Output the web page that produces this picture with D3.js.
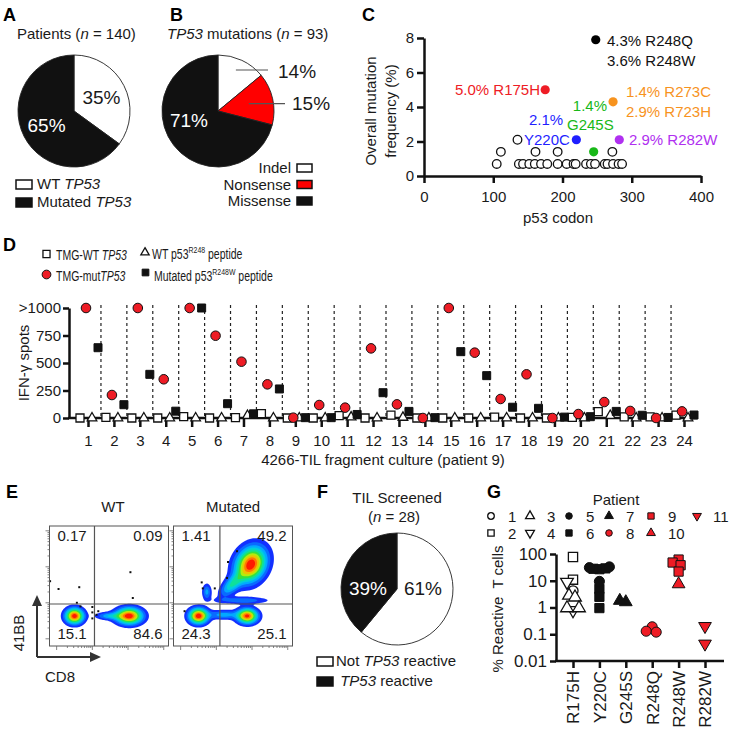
<!DOCTYPE html>
<html>
<head>
<meta charset="utf-8">
<script src="https://cdn.jsdelivr.net/npm/d3@7"></script>
<style>
html,body{margin:0;padding:0;background:#fff;}
svg{display:block;}
text{font-family:"Liberation Sans",Arial,Helvetica,sans-serif;}
</style>
</head>
<body>
<svg id="fig" width="755" height="742" xmlns="http://www.w3.org/2000/svg"></svg>
<script>
// ================= DATA =================
// Panel A
const aCategories = ["WT <i>TP53</i>", "Mutated <i>TP53</i>"];
const aValues = [35, 65];
// Panel B
const bCategories = ["Indel", "Nonsense", "Missense"];
const bValues = [14, 15, 71];
// Panel C
const cOpenCodon = [105,137,143,152,160,169,178,193,206,216,219,234,241,247,261,265,273,281,286,111,161,193,272,135];
const cOpenFreq  = [0.7,0.7,0.7,0.7,0.7,0.7,0.7,0.7,0.7,0.7,0.7,0.7,0.7,0.7,0.7,0.7,0.7,0.7,0.7,1.4,1.4,1.4,1.4,2.1];
const cHotCodon = [175, 220, 245, 248, 273, 282];
const cHotFreq  = [5.0, 2.1, 1.4, 7.9, 4.3, 2.1];
const cXTicks = [0, 100, 200, 300, 400];
const cYTicks = [0, 2, 4, 6, 8];
// Panel D
const dFragments = ["1","2","3","4","5","6","7","8","9","10","11","12","13","14","15","16","17","18","19","20","21","22","23","24"];
const dWtTmg  = [0,5,0,0,12,0,3,40,0,0,22,0,27,0,0,0,8,0,0,5,58,10,10,27];
const dMutTmg = [1000,209,1000,352,1000,748,512,306,3,118,94,633,124,0,1000,594,173,397,0,36,145,64,0,60];
const dWtPep  = [0,0,0,0,0,0,22,0,0,0,8,0,5,0,0,0,0,0,0,0,22,0,0,0];
const dMutPep = [639,121,397,62,1000,130,38,264,3,3,32,230,60,3,603,385,98,88,8,12,60,25,5,27];
const dYTicks = [0, 250, 500, 750, 1000];
const dYLabels = ["0", "250", "500", "750", ">1000"];
// Panel E (quadrant percentages; populations: [CD8, 41BB, sdMajor, sdMinor, angle, weight])
const eQuadWT  = ["0.17", "0.09", "15.1", "84.6"];
const eQuadMut = ["1.41", "49.2", "24.3", "25.1"];
const ePopsWT = [[21,25,5.0,4.2,0,1],[67,25,7.2,4.4,0,1],[50,25,7,2.0,0,0.3]];
const ePopsMut = [[21,25,5.2,4.2,0,1],[62,25,5.6,4.0,0,0.95],[42,26,8,2.4,0,0.3],[65,68,10,7.8,60,1],[49,51,8,3.8,45,0.4],[28,45,2.4,4.2,0,0.28],[58,38,14,1.9,0,0.22]];
const eEventsWT = [[0.5,54],[7.6,47.5],[25,49],[23,36],[26,33],[36,32.5],[36,28],[36,23],[39.5,26],[41,29],[68,61.5],[70,40]];
const eEventsMut = [[9.3,29],[23.7,53],[24.6,48],[45.8,70],[53.4,79],[45,56.7],[34.7,48]];
// Panel F
const fCategories = ["Not <i>TP53</i> reactive", " <i>TP53</i> reactive"];
const fValues = [61, 39];
// Panel G
const gCategories = ["R175H","Y220C","G245S","R248Q","R248W","R282W"];
const gCat     = [0,0,0,0,0,0,0,0,0, 1,1,1,1,1,1,1,1,1, 2,2, 3,3,3, 4,4,4,4,4, 5,5];
const gPatient = [2,2,4,4,1,3,3,3,3, 6,6,6,6,6,6,5,5,5, 7,7, 8,8,8, 9,9,9,9,10, 11,11];
const gValue   = [77,11,9,0.78,4.2,2.8,2.4,0.95,0.95, 27,28,29,5,2.5,0.95,31,33,9.5, 1.6,1.8, 0.19,0.13,0.12, 62,48,38,22,7.5, 0.2,0.044];
const gYTicks = [0.01, 0.1, 1, 10, 100];
const gYLabels = ["0.01", "0.1", "1", "10", "100"];
const gLegendPatients = [1,3,5,7,9,11,2,4,6,8,10];

// ================= HELPERS =================
const svg = d3.select("#fig");
const FONT = '"Liberation Sans",Arial,Helvetica,sans-serif';
const INK = "#1a1a1a";
const RED = "#ee1c25";

function rich(t, str) {
  const re = /<(i|sup)>(.*?)<\/(?:i|sup)>/g;
  let last = 0, m, pending = 0;
  const add = (s, kind) => {
    if (!s) return;
    const sp = t.append("tspan").text(s);
    let dy = pending; pending = 0;
    if (kind === "i") sp.attr("font-style", "italic");
    if (kind === "sup") { sp.attr("font-size", "0.66em"); dy -= 6; pending = 6; }
    if (dy) sp.attr("dy", dy);
  };
  while ((m = re.exec(str))) {
    add(str.slice(last, m.index), null);
    add(m[2], m[1]);
    last = re.lastIndex;
  }
  add(str.slice(last), null);
}
function T(parent, x, y, str, o = {}) {
  const t = parent.append("text").attr("x", x).attr("y", y)
    .attr("font-size", o.size || 15).attr("text-anchor", o.anchor || "start")
    .attr("fill", o.fill || INK).attr("font-weight", o.weight || "normal")
    .style("white-space", "pre");
  if (o.rotate) t.attr("transform", `rotate(${o.rotate},${x},${y})`);
  rich(t, str);
  return t;
}
function panelLabel(x, y, s) { T(svg, x, y, s, {size: 18, weight: "bold", fill: "#000"}); }
function styleAxis(g, size) {
  g.attr("font-family", FONT).attr("font-size", size);
  g.select(".domain").attr("stroke", "#111").attr("stroke-width", 2.5);
  g.selectAll(".tick line").attr("stroke", "#111").attr("stroke-width", 2.5);
  g.selectAll(".tick text").attr("fill", INK);
}
function symbolPath(type, size) {
  const t = type === "circle" ? d3.symbolCircle : type === "square" ? d3.symbolSquare : d3.symbolTriangle;
  return d3.symbol().type(t).size(size)();
}
function drawSym(parent, type, fill, x, y, size) {
  const p = parent.append("path").attr("d", symbolPath(type, size))
    .attr("transform", `translate(${x},${y})` + (type === "tridown" ? " rotate(180)" : ""));
  if (fill === "open") p.attr("fill", "#fff").attr("stroke", "#111").attr("stroke-width", 1.3);
  else if (fill === "black") p.attr("fill", "#111").attr("stroke", "#111").attr("stroke-width", 1);
  else p.attr("fill", RED).attr("stroke", "#111").attr("stroke-width", 1);
  return p;
}
function pie(cx, cy, r, values, colors) {
  const arcs = d3.pie().sort(null).value(d => d)(values);
  const arc = d3.arc().innerRadius(0).outerRadius(r);
  svg.append("g").attr("transform", `translate(${cx},${cy})`)
    .selectAll("path").data(arcs).join("path")
    .attr("d", arc).attr("fill", (d, i) => colors[i])
    .attr("stroke", "#222").attr("stroke-width", 0.9);
  return arcs;
}
function legendBox(x, y, fill) {
  svg.append("rect").attr("x", x).attr("y", y).attr("width", 16).attr("height", 9)
    .attr("fill", fill).attr("stroke", "#111").attr("stroke-width", 1.5);
}

// ================= PANEL A =================
panelLabel(3, 21, "A");
T(svg, 17, 39, "Patients (<i>n</i> = 140)", {size: 15});
{
  const cx = 74, cy = 111, r = 56;
  const arcs = pie(cx, cy, r, aValues, ["#fff", "#111"]);
  const lab = d3.arc().innerRadius(r * 0.55).outerRadius(r * 0.55);
  arcs.forEach((a, i) => {
    const [lx, ly] = lab.centroid(a);
    T(svg, cx + lx, cy + ly + 7, a.data + "%", {size: 19, anchor: "middle", fill: i === 0 ? INK : "#fff"});
  });
  const fills = ["#fff", "#111"];
  aCategories.forEach((c, i) => {
    legendBox(16, 180 + i * 18, fills[i]);
    T(svg, 37, 189 + i * 18, c, {size: 15});
  });
}

// ================= PANEL B =================
panelLabel(170, 21, "B");
T(svg, 167, 39, "<i>TP53</i> mutations (<i>n</i> = 93)", {size: 15});
{
  const cx = 218, cy = 111, r = 56;
  const cols = ["#fff", "#ff0000", "#111"];
  const arcs = pie(cx, cy, r, bValues, cols);
  const l1 = d3.arc().innerRadius(r * 0.75).outerRadius(r * 0.75).centroid(arcs[0]);
  const l2 = d3.arc().innerRadius(r * 0.6).outerRadius(r * 0.6).centroid(arcs[1]);
  svg.append("line").attr("x1", cx + l1[0]).attr("y1", cy + l1[1] - 3).attr("x2", 268).attr("y2", cy + l1[1] - 3).attr("stroke", "#555").attr("stroke-width", 1.2);
  svg.append("line").attr("x1", cx + l2[0] - 2).attr("y1", cy + l2[1]).attr("x2", 285).attr("y2", cy + l2[1]).attr("stroke", "#555").attr("stroke-width", 1.2);
  T(svg, 278, cy + l1[1] + 5, bValues[0] + "%", {size: 19});
  T(svg, 292, cy + l2[1] + 6, bValues[1] + "%", {size: 19});
  T(svg, cx - 29, cy + 16, bValues[2] + "%", {size: 19, anchor: "middle", fill: "#fff"});
  bCategories.forEach((c, i) => {
    svg.append("rect").attr("x", 297).attr("y", 164 + i * 16.5).attr("width", 15).attr("height", 8)
      .attr("fill", cols[i]).attr("stroke", "#111").attr("stroke-width", 1.5);
    T(svg, 291, 173 + i * 16.5, c, {size: 15, anchor: "end"});
  });
}

// ================= PANEL C =================
panelLabel(362, 21, "C");
{
  const x = d3.scaleLinear().domain([0, 400]).range([424, 701]);
  const y = d3.scaleLinear().domain([0, 8]).range([176, 38]);
  const gx = svg.append("g").attr("transform", "translate(0,176)")
    .call(d3.axisBottom(x).tickValues(cXTicks).tickSize(7).tickSizeOuter(0).tickPadding(8));
  styleAxis(gx, 15);
  const gy = svg.append("g").attr("transform", "translate(424,0)")
    .call(d3.axisLeft(y).tickValues(cYTicks).tickSize(7).tickSizeOuter(0).tickPadding(3));
  styleAxis(gy, 15);
  T(svg, 558, 223, "p53 codon", {size: 15, anchor: "middle"});
  T(svg, 376, 111, "Overall mutation", {size: 15, anchor: "middle", rotate: -90});
  T(svg, 396, 111, "frequency (%)", {size: 15, anchor: "middle", rotate: -90});
  svg.append("g").selectAll("circle").data(cOpenCodon).join("circle")
    .attr("cx", (d) => x(d)).attr("cy", (d, i) => y(cOpenFreq[i])).attr("r", 4.3)
    .attr("fill", "#fff").attr("stroke", "#111").attr("stroke-width", 1.3);
  const hotColors = [RED, "#1f1fff", "#18b818", "#000", "#f7931e", "#b030f0"];
  svg.append("g").selectAll("circle").data(cHotCodon).join("circle")
    .attr("cx", d => x(d)).attr("cy", (d, i) => y(cHotFreq[i])).attr("r", 4.6)
    .attr("fill", (d, i) => hotColors[i]);
  T(svg, 607, 46, "4.3% R248Q", {size: 15, fill: "#111"});
  T(svg, 607, 66, "3.6% R248W", {size: 15, fill: "#111"});
  T(svg, 540, 95, "5.0% R175H", {size: 15, fill: hotColors[0], anchor: "end"});
  T(svg, 626, 97, "1.4% R273C", {size: 15, fill: hotColors[4]});
  T(svg, 626, 117, "2.9% R723H", {size: 15, fill: hotColors[4]});
  T(svg, 607, 111, "1.4%", {size: 15, fill: hotColors[2], anchor: "end"});
  T(svg, 567, 130, "G245S", {size: 15, fill: hotColors[2]});
  T(svg, 529, 125, "2.1%", {size: 15, fill: hotColors[1]});
  T(svg, 524, 145, "Y220C", {size: 15, fill: hotColors[1]});
  T(svg, 629, 145, "2.9% R282W", {size: 15, fill: hotColors[5]});
}

// ================= PANEL D =================
panelLabel(3, 251, "D");
{
  const leg = (x, y, s) => {
    const g = svg.append("g").attr("transform", `translate(${x},${y}) scale(0.7,1)`);
    T(g, 0, 0, s, {size: 15});
  };
  drawSym(svg, "square", "open", 46.5, 254, 50);
  leg(56, 260, "TMG-WT <i>TP53</i>");
  drawSym(svg, "triangle", "open", 145, 252.5, 30);
  leg(152, 259, "WT p53<sup>R248</sup> peptide");
  drawSym(svg, "circle", "red", 46.5, 274.5, 60);
  leg(56, 281, "TMG-mut<i>TP53</i>");
  drawSym(svg, "square", "black", 145.5, 272.5, 45);
  leg(154, 281, "Mutated p53<sup>R248W</sup> peptide");

  const x = d3.scalePoint().domain(dFragments).range([88, 684]);
  const step = x.step();
  const y = d3.scaleLinear().domain([0, 1000]).range([418, 308]);
  svg.append("g").selectAll("line").data(dFragments.slice(1)).join("line")
    .attr("x1", d => x(d) - step / 2).attr("x2", d => x(d) - step / 2)
    .attr("y1", 305).attr("y2", 418)
    .attr("stroke", "#222").attr("stroke-width", 1.2).attr("stroke-dasharray", "3,3");
  const gx = svg.append("g").attr("transform", "translate(0,418)")
    .call(d3.axisBottom(x).tickSize(9).tickPadding(8));
  styleAxis(gx, 15);
  gx.select(".domain").remove();
  svg.append("line").attr("x1", 68).attr("x2", 697).attr("y1", 418).attr("y2", 418).attr("stroke", "#111").attr("stroke-width", 2.5);
  const gy = svg.append("g").attr("transform", "translate(69,0)")
    .call(d3.axisLeft(y).tickValues(dYTicks).tickFormat((d, i) => dYLabels[i]).tickSize(6).tickPadding(2).tickSizeOuter(0));
  styleAxis(gy, 15);
  T(svg, 383, 465, "4266-TIL fragment culture (patient 9)", {size: 15, anchor: "middle"});
  T(svg, 29, 363, "IFN-γ spots", {size: 15, anchor: "middle", rotate: -90});
  const series = [
    {vals: dWtTmg, type: "square", fill: "open", off: -8, size: 64},
    {vals: dWtPep, type: "triangle", fill: "open", off: 4, size: 40},
    {vals: dMutTmg, type: "circle", fill: "red", off: -2, size: 72},
    {vals: dMutPep, type: "square", fill: "black", off: 10, size: 64},
  ];
  const pg = svg.append("g");
  series.forEach(s => {
    s.vals.forEach((v, i) => drawSym(pg, s.type, s.fill, x(dFragments[i]) + s.off, y(Math.min(v, 1000)), s.size));
  });
}

// ================= PANEL E =================
panelLabel(6, 498, "E");
function flow(x0, y0, w, h, pops, gate, events, quads, id) {
  const g = svg.append("g").attr("transform", `translate(${x0},${y0})`);
  const sx = d3.scaleLinear([0, 100], [0, w]), sy = d3.scaleLinear([0, 100], [h, 0]);
  const nx = Math.round(w), ny = Math.round(h);
  const vals = new Float64Array(nx * ny);
  let mx = 0;
  for (let j = 0; j < ny; j++) for (let i = 0; i < nx; i++) {
    const u = sx.invert(i + 0.5), v = sy.invert(j + 0.5);
    let s = 0;
    for (const p of pops) {
      const [mu, mv, su, sv, ang, wt] = p;
      const a = ang * Math.PI / 180, dx = u - mu, dy = v - mv;
      const uu = dx * Math.cos(a) + dy * Math.sin(a), vv = -dx * Math.sin(a) + dy * Math.cos(a);
      s += wt * Math.exp(-0.5 * (uu * uu / (su * su) + vv * vv / (sv * sv)));
    }
    vals[j * nx + i] = s; if (s > mx) mx = s;
  }
  for (let k = 0; k < vals.length; k++) vals[k] /= mx;
  const levels = [0.07, 0.15, 0.24, 0.33, 0.42, 0.52, 0.62, 0.72, 0.82, 0.91];
  const jet = d3.scaleLinear().domain([0, 0.12, 0.25, 0.4, 0.55, 0.7, 0.85, 1])
    .range(["#1230ff", "#0870ff", "#00b8ff", "#00e0c0", "#30e040", "#d8f000", "#ff9a00", "#ff1a00"]);
  svg.append("clipPath").attr("id", id).append("rect").attr("width", w).attr("height", h);
  const cg = g.append("g").attr("clip-path", `url(#${id})`);
  cg.selectAll("path").data(d3.contours().size([nx, ny]).thresholds(levels)(vals)).join("path")
    .attr("d", d3.geoPath()).attr("fill", (d, i) => jet(i / (levels.length - 1)));
  cg.selectAll("rect.ev").data(events).join("rect").attr("class", "ev")
    .attr("x", d => sx(d[0]) - 1).attr("y", d => sy(d[1]) - 1).attr("width", 2).attr("height", 2).attr("fill", "#111");
  g.append("rect").attr("width", w).attr("height", h).attr("fill", "none").attr("stroke", "#555").attr("stroke-width", 1);
  g.append("line").attr("x1", sx(gate[0])).attr("x2", sx(gate[0])).attr("y1", 0).attr("y2", h).attr("stroke", "#555").attr("stroke-width", 1.2);
  g.append("line").attr("x1", 0).attr("x2", w).attr("y1", sy(gate[1])).attr("y2", sy(gate[1])).attr("stroke", "#555").attr("stroke-width", 1.2);
  const decades = [6, 36, 66, 96];
  const tk = [];
  decades.forEach(d => { tk.push([d, 4]); [2,3,4,5,6,7,8,9].forEach(k => { const p = d + 30 * Math.log10(k); if (p < 100) tk.push([p, 2]); }); });
  g.selectAll("line.tb").data(tk).join("line").attr("class", "tb")
    .attr("x1", d => sx(d[0])).attr("x2", d => sx(d[0])).attr("y1", h).attr("y2", d => h + d[1]).attr("stroke", "#666").attr("stroke-width", 0.8);
  g.selectAll("line.tl").data(tk).join("line").attr("class", "tl")
    .attr("y1", d => sy(d[0])).attr("y2", d => sy(d[0])).attr("x1", 0).attr("x2", d => -d[1]).attr("stroke", "#666").attr("stroke-width", 0.8);
  T(g, 8, 15, quads[0], {size: 15});
  T(g, w - 6, 15, quads[1], {size: 15, anchor: "end"});
  T(g, 8, h - 7, quads[2], {size: 15});
  T(g, w - 6, h - 7, quads[3], {size: 15, anchor: "end"});
}
flow(49.5, 526, 119, 120, ePopsWT, [37.8, 35], eEventsWT, eQuadWT, "clipwt");
flow(173.5, 526, 119, 120, ePopsMut, [39, 35], eEventsMut, eQuadMut, "clipmut");
T(svg, 113, 512, "WT", {size: 15, anchor: "middle"});
T(svg, 233, 512, "Mutated", {size: 15, anchor: "middle"});
{
  const ag = svg.append("g").attr("stroke", "#333").attr("fill", "#333");
  ag.append("path").attr("d", "M37,657 L37,604 M37,657 L93,657").attr("fill", "none").attr("stroke-width", 2);
  ag.append("path").attr("d", "M37,595 L32,606 L42,606 Z").attr("stroke", "none");
  ag.append("path").attr("d", "M101,657 L90,652 L90,662 Z").attr("stroke", "none");
  T(svg, 24, 633, "41BB", {size: 15, anchor: "middle", rotate: -90});
  T(svg, 45, 682, "CD8", {size: 15});
}

// ================= PANEL F =================
panelLabel(317, 498, "F");
T(svg, 397, 503, "TIL Screened", {size: 15, anchor: "middle"});
T(svg, 394, 522, "(<i>n</i> = 28)", {size: 15, anchor: "middle"});
{
  const cx = 397, cy = 589, r = 56;
  pie(cx, cy, r, fValues, ["#fff", "#111"]);
  T(svg, cx + 26, cy + 6, fValues[0] + "%", {size: 19, anchor: "middle"});
  T(svg, cx - 29, cy + 6, fValues[1] + "%", {size: 19, anchor: "middle", fill: "#fff"});
  const fills = ["#fff", "#111"];
  fCategories.forEach((c, i) => {
    legendBox(317, 657 + i * 20, fills[i]);
    T(svg, 336, 666 + i * 20, c, {size: 15});
  });
}

// ================= PANEL G =================
panelLabel(487, 498, "G");
{
  const style = {1:["circle","open"],2:["square","open"],3:["triangle","open"],4:["tridown","open"],
    5:["circle","black"],6:["square","black"],7:["triangle","black"],8:["circle","red"],
    9:["square","red"],10:["triangle","red"],11:["tridown","red"]};
  T(svg, 616, 505, "Patient", {size: 15, anchor: "middle"});
  const colX = [491, 530, 569, 609, 651, 697];
  gLegendPatients.forEach((p, k) => {
    const row = k < 6 ? 0 : 1, col = k < 6 ? k : k - 6;
    const sy = 516 + row * 17;
    const [tp, fl] = style[p];
    drawSym(svg, tp, fl, colX[col], sy, tp === "square" ? 40 : 34);
    T(svg, colX[col] + (p === 11 ? 16 : 17), sy + 5.5, String(p), {size: 15});
  });
  const x = d3.scalePoint().domain(gCategories).range([573, 705]);
  const y = d3.scaleLog().domain([0.01, 100]).range([661, 554]);
  const gy = svg.append("g").attr("transform", "translate(556,0)")
    .call(d3.axisLeft(y).tickValues(gYTicks).tickFormat((d, i) => gYLabels[i]).tickSize(6).tickPadding(3).tickSizeOuter(0));
  styleAxis(gy, 17);
  const gx = svg.append("g").attr("transform", "translate(0,661)")
    .call(d3.axisBottom(x).tickSize(7).tickSizeOuter(0));
  styleAxis(gx, 17);
  gx.select(".domain").remove();
  svg.append("line").attr("x1", 555).attr("x2", 724).attr("y1", 661).attr("y2", 661).attr("stroke", "#111").attr("stroke-width", 2.5);
  gx.selectAll(".tick text").attr("transform", "rotate(-90)").attr("text-anchor", "end")
    .attr("x", -10).attr("y", 0).attr("dy", "0.35em");
  T(svg, 503, 609, "% Reactive  T cells", {size: 15, anchor: "middle", rotate: -90});
  const placed = [];
  const offs = [0, -2, 2, -4, 4, -6, 6, -8, 8, -10, 10];
  const MIN = 6;
  const pg = svg.append("g");
  gValue.forEach((v, i) => {
    const cxp = x(gCategories[gCat[i]]), cyp = y(v);
    let best = null, bestD = -1;
    for (const o of offs) {
      const dmin = placed.length ? d3.min(placed, p => Math.hypot(p[0] - (cxp + o), p[1] - cyp)) : Infinity;
      if (dmin >= MIN) { best = o; break; }
      if (dmin > bestD) { bestD = dmin; best = o; }
    }
    placed.push([cxp + best, cyp]);
    const [tp, fl] = style[gPatient[i]];
    drawSym(pg, tp, fl, cxp + best, cyp, tp === "square" ? 85 : tp === "circle" ? 80 : 70);
  });
}
</script>
</body>
</html>
